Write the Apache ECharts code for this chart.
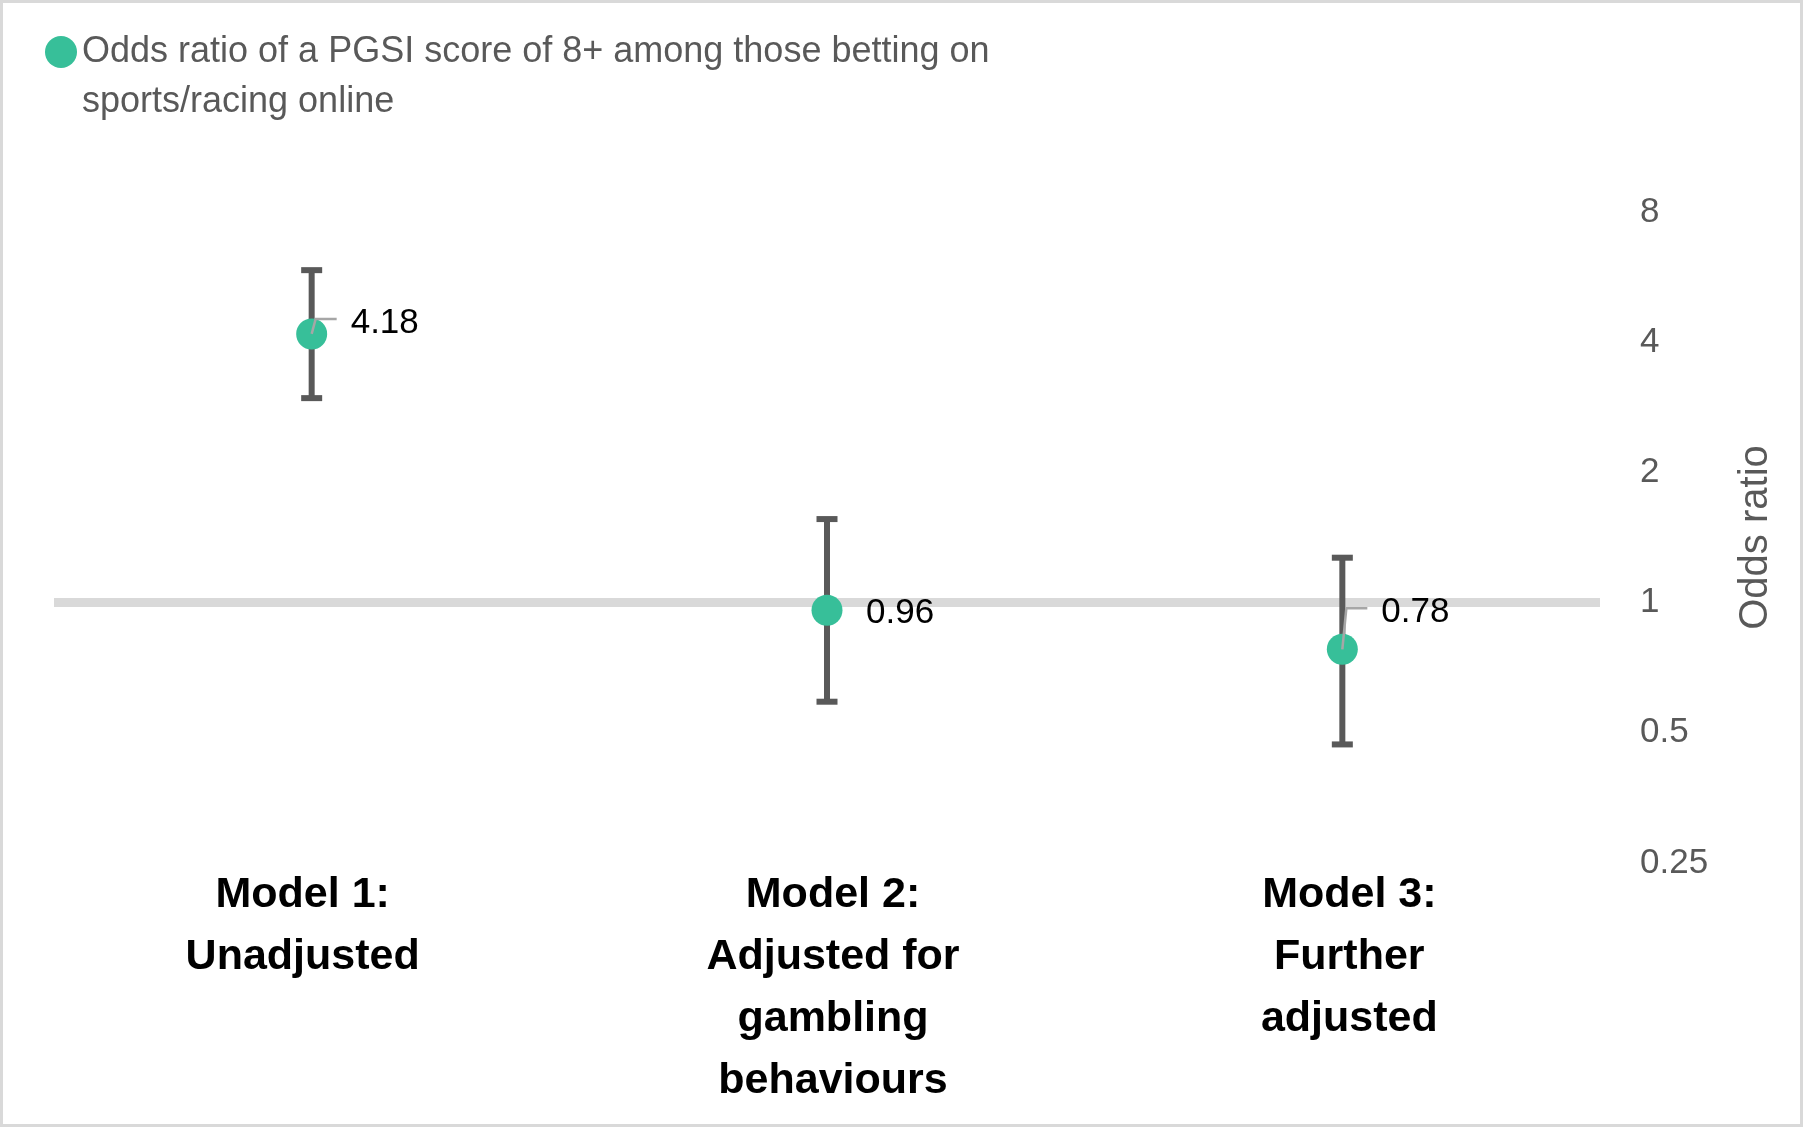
<!DOCTYPE html>
<html><head><meta charset="utf-8">
<script src="https://cdn.jsdelivr.net/npm/echarts@6/dist/echarts.min.js"></script>
<style>html,body{margin:0;padding:0;background:#fff}#c{width:1803px;height:1131px}</style>
</head><body><div id="c"></div>
<script>
// ---- data ----
const categories = ['Model 1:\nUnadjusted', 'Model 2:\nAdjusted for\ngambling\nbehaviours', 'Model 3:\nFurther\nadjusted'];
const oddsRatios = [4.18, 0.96, 0.78];
const ciLower = [2.97, 0.59, 0.47];
const ciUpper = [5.87, 1.56, 1.27];
const yTickLabels = [0.25, 0.5, 1, 2, 4, 8];
const seriesName = 'Odds ratio of a PGSI score of 8+ among those betting on sports/racing online';
const axisName = 'Odds ratio';
const referenceValue = 1;

// ---- styling / layout (not data) ----
const FONT = 'Liberation Sans, Arial, sans-serif';
const GREEN = '#37BF99';
const labelLift = [-11, 3, -37];
const leaderLift = [-15, 0, -41];
const hasLeader = [true, false, true];
const catPadding = [[0, 18, 0, 0], [0, 0, 0, 12], [0, 0, 0, 14]];

const chart = echarts.init(document.getElementById('c'), null, {renderer: 'canvas'});
const option = {
  animation: false,
  backgroundColor: '#ffffff',
  textStyle: {fontFamily: FONT},
  graphic: [{
    type: 'rect', silent: true, z: -10,
    shape: {x: 1.5, y: 1.5, width: 1800, height: 1124},
    style: {fill: null, stroke: '#d9d9d9', lineWidth: 3}
  }],
  legend: {
    data: [seriesName],
    left: 45, top: -23, padding: 0,
    icon: 'circle', itemWidth: 32, itemHeight: 32,
    formatter: n => ' \n' + n.replace('betting on ', 'betting on\n'),
    textStyle: {fontSize: 36, color: '#595959', lineHeight: 50, fontFamily: FONT}
  },
  grid: {left: 54, right: 203, top: 212, bottom: 268, containLabel: false},
  xAxis: {
    type: 'category', boundaryGap: true,
    data: categories.map((c, i) => ({value: c, textStyle: {padding: catPadding[i]}})),
    axisLine: {show: false}, axisTick: {show: false}, splitLine: {show: false},
    axisLabel: {interval: 0, fontSize: 43, fontWeight: 'bold', color: '#000', lineHeight: 62, margin: 1, fontFamily: FONT}
  },
  yAxis: {
    type: 'log', logBase: 2, position: 'right',
    min: yTickLabels[0], max: yTickLabels[yTickLabels.length - 1], splitNumber: yTickLabels.length - 1,
    axisLine: {show: false}, axisTick: {show: false}, splitLine: {show: false},
    axisLabel: {fontSize: 35, color: '#595959', margin: 40, fontFamily: FONT,
      formatter: v => String(+Number(v).toPrecision(6))},
    name: axisName, nameLocation: 'middle', nameGap: 136, nameRotate: 90,
    nameTextStyle: {fontSize: 40, color: '#595959', fontFamily: FONT}
  },
  series: [
    {
      type: 'line', name: 'ref', data: [], z: 0, silent: true,
      markLine: {
        z: 0, silent: true, symbol: 'none', label: {show: false},
        lineStyle: {color: '#d9d9d9', width: 9, type: 'solid'},
        data: [{yAxis: referenceValue}]
      }
    },
    {
      type: 'custom', name: 'ci', z: 2, silent: true,
      data: categories.map((c, i) => [i, ciLower[i], ciUpper[i]]),
      encode: {x: 0, y: [1, 2]},
      renderItem: function (params, api) {
        const x = api.value(0);
        const lo = api.coord([x, api.value(1)]);
        const hi = api.coord([x, api.value(2)]);
        const hw = 10.5;
        const st = {stroke: '#595959', lineWidth: 6, fill: null};
        return {type: 'group', children: [
          {type: 'line', shape: {x1: lo[0], y1: lo[1], x2: hi[0], y2: hi[1]}, style: st},
          {type: 'line', shape: {x1: lo[0] - hw, y1: lo[1], x2: lo[0] + hw, y2: lo[1]}, style: st},
          {type: 'line', shape: {x1: hi[0] - hw, y1: hi[1], x2: hi[0] + hw, y2: hi[1]}, style: st}
        ]};
      }
    },
    {
      type: 'scatter', name: seriesName, z: 3,
      symbol: 'circle', symbolSize: 31,
      itemStyle: {color: GREEN, opacity: 1},
      data: oddsRatios.map((v, i) => ({value: [i, v], label: {offset: [0, labelLift[i]]}})),
      label: {
        show: true, position: 'right', distance: 23.5,
        fontSize: 35, color: '#000', fontFamily: FONT,
        formatter: p => p.value[1].toFixed(2)
      }
    },
    {
      type: 'custom', name: 'leader', z: 4, silent: true,
      data: oddsRatios.map((v, i) => [i, v]),
      encode: {x: 0, y: 1},
      renderItem: function (params, api) {
        const i = params.dataIndex;
        if (!hasLeader[i]) return null;
        const p = api.coord([api.value(0), api.value(1)]);
        const dy = leaderLift[i];
        return {type: 'polyline',
          shape: {points: [[p[0], p[1]], [p[0] + 4, p[1] + dy], [p[0] + 25, p[1] + dy]]},
          style: {stroke: '#A6A6A6', lineWidth: 2.5, fill: null}};
      }
    }
  ]
};
chart.setOption(option);
</script>
</body></html>
